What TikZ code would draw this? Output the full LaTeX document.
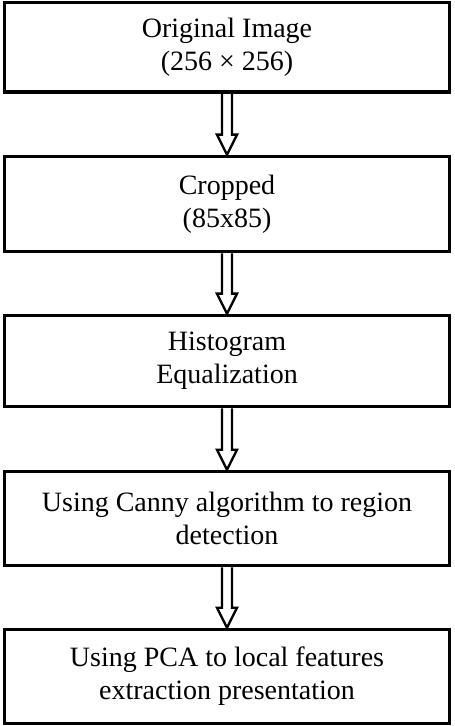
\documentclass[tikz,border=0pt]{standalone}
\usepackage{fontspec}
\setmainfont{Liberation Serif}
\usepackage{tikz}
\usetikzlibrary{calc}

\newcommand{\hollowarrow}[2]{%
	\draw[flow] ($(#1.south)+(-5,0)$) -- ($(#2.north)+(-5,-20)$) -- ($(#2.north)+(-10,-20)$) -- (#2.north) -- ($(#2.north)+(10,-20)$) -- ($(#2.north)+(5,-20)$) -- ($(#1.south)+(5,0)$);}

\begin{document}
\begin{tikzpicture}[x=0.5pt, y=-0.5pt,
		box/.style={draw, line width=1.8pt, minimum width=222.5pt, inner sep=0pt, align=center, font=\fontsize{14pt}{16.5pt}\selectfont},
		flow/.style={line width=1.2pt, line join=miter}]
		\useasboundingbox (0,0) rectangle (454,726);
		
		% Boxes
		\node[box, minimum height=44.75pt] (orig) at (227,47.25) {Original Image\\(256 × 256)};
		\node[box, minimum height=47.5pt] (crop) at (227,204) {Cropped\\(85x85)};
		\node[box, minimum height=45.5pt] (hist) at (227,361) {Histogram\\Equalization};
		\node[box, minimum height=47pt] (canny) at (227,518.5) {Using Canny algorithm to region\\detection};
		\node[box, minimum height=47pt] (pca) at (227,676.5) {Using PCA to local features\\extraction presentation};
		
		% Arrows
		\hollowarrow{orig}{crop}
		\hollowarrow{crop}{hist}
		\hollowarrow{hist}{canny}
		\hollowarrow{canny}{pca}
	\end{tikzpicture}
\end{document}
